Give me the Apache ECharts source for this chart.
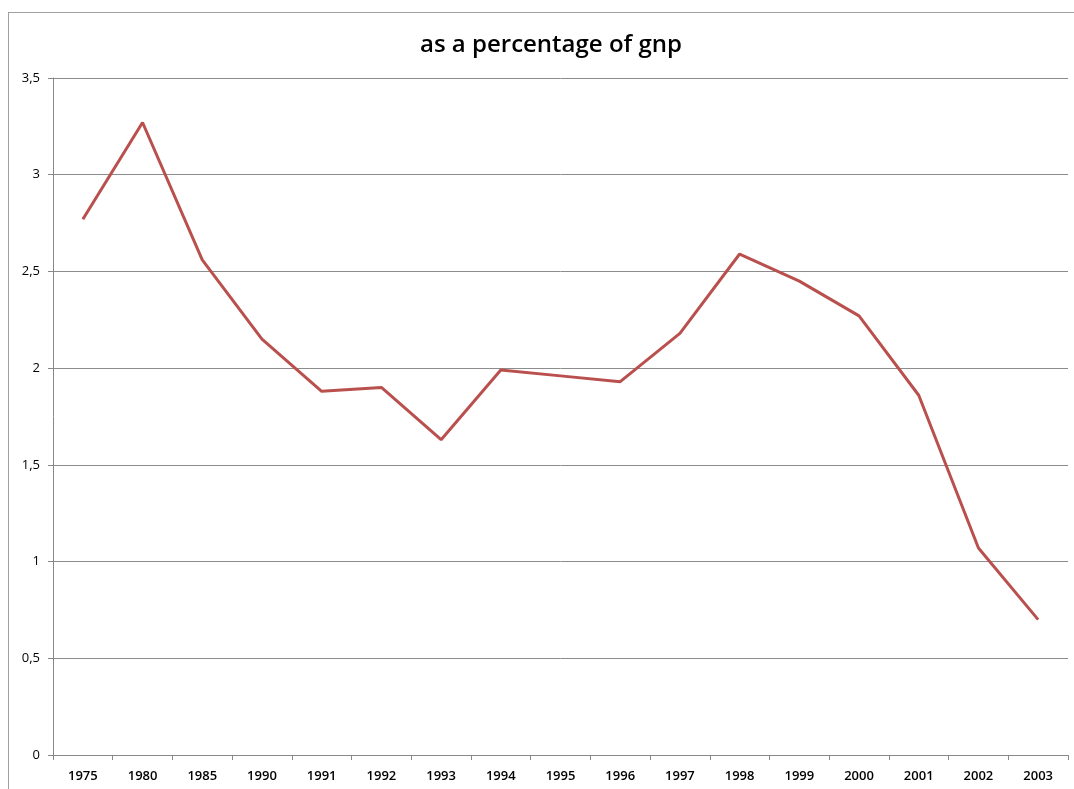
<!DOCTYPE html>
<html>
<head>
<meta charset="utf-8">
<script src="https://cdn.jsdelivr.net/npm/echarts@6/dist/echarts.min.js"></script>
<style>
  html, body { margin: 0; padding: 0; background: #fff; }
  #frame { position: absolute; left: 8px; top: 12px; width: 1080px; height: 800px; border: 1px solid #a0a0a0; }
  #line-chart { position: absolute; left: 0; top: 0; width: 1074px; height: 789px; }
</style>
</head>
<body>
<div id="frame"></div>
<div id="line-chart"></div>
<script>
let years = ['1975','1980','1985','1990','1991','1992','1993','1994','1995','1996','1997','1998','1999','2000','2001','2002','2003'];
let values = [2.77, 3.27, 2.56, 2.15, 1.88, 1.90, 1.63, 1.99, 1.96, 1.93, 2.18, 2.59, 2.45, 2.27, 1.86, 1.07, 0.70];
let yTicks = [0, 0.5, 1, 1.5, 2, 2.5, 3, 3.5];

let chart = echarts.init(document.getElementById('line-chart'));
let option = {
    animation: false,
    title: {
        text: 'as a percentage of gnp',
        left: 415,
        top: 28,
        textStyle: {
            fontFamily: 'Open Sans',
            fontWeight: 600,
            fontSize: 24,
            color: '#000'
        }
    },
    grid: {
        left: 53,
        right: 6,
        top: 78,
        bottom: 34
    },
    xAxis: {
        type: 'category',
        data: years,
        boundaryGap: true,
        axisLine: { lineStyle: { color: '#888', width: 1 } },
        axisTick: { show: true, length: 5, lineStyle: { color: '#888' } },
        axisLabel: {
            color: '#000',
            fontFamily: 'Open Sans',
            fontWeight: 600,
            fontSize: 13,
            margin: 15
        }
    },
    yAxis: {
        type: 'value',
        min: yTicks[0],
        max: yTicks[yTicks.length - 1],
        interval: 0.5,
        axisLine: { show: true, lineStyle: { color: '#888', width: 1 } },
        axisTick: { show: true, length: 5, lineStyle: { color: '#888' } },
        axisLabel: {
            color: '#000',
            fontFamily: 'Open Sans',
            fontSize: 13,
            margin: 13,
            formatter: function (v) { return String(v).replace('.', ','); }
        },
        splitLine: { lineStyle: { color: '#8c8c8c', width: 1 } }
    },
    series: [{
        type: 'line',
        data: values,
        symbol: 'none',
        lineStyle: { color: '#b9504d', width: 3 }
    }]
};
chart.setOption(option);
</script>
</body>
</html>
